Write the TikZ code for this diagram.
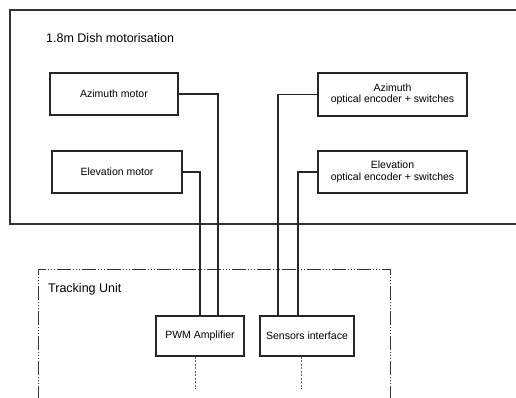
\documentclass[tikz,border=0pt]{standalone}
\usepackage{fontspec}
\setmainfont{Liberation Sans}
\begin{document}
\begin{tikzpicture}[x=1pt,y=-1pt,
  wire/.style={line width=1.3pt, draw=black!85},
  unitbox/.style={draw=black!85, line width=1.3pt, rectangle, inner sep=0pt,
    align=center, font=\fontsize{10.5}{11.5}\selectfont},
  frame/.style={line width=1.3pt, draw=black!80},
  dashdot/.style={line width=0.7pt, draw=black!80,
    dash pattern=on 14pt off 2pt on 1pt off 2pt on 1pt off 2pt on 1pt off 2pt},
  busline/.style={line width=0.6pt, draw=black!60, dash pattern=on 2pt off 1.5pt},
  heading/.style={anchor=west, inner sep=0pt, font=\fontsize{12.5}{14}\selectfont}]
\useasboundingbox (0,0) rectangle (516,398);

% dish motorisation enclosure (runs off the right edge)
\draw[frame] (530,10) -- (10,10) -- (10,224) -- (530,224);
\node[heading] (dishtitle) at (46,38) {1.8m Dish motorisation};

% motors
\node[unitbox, minimum width=128pt, minimum height=42pt] (azm) at (114,94) {Azimuth motor};
\node[unitbox, minimum width=130pt, minimum height=42pt] (elm) at (117,172) {Elevation motor};

% encoders
\node[unitbox, minimum width=149pt, minimum height=43pt] (aze) at (392.5,94.5) {Azimuth\\optical encoder + switches};
\node[unitbox, minimum width=149pt, minimum height=42pt] (ele) at (392.5,172) {Elevation\\optical encoder + switches};

% tracking unit enclosure (runs off the bottom edge)
\draw[dashdot] (38,400) -- (38,269) -- (390,269) -- (390,400);
\node[heading] (tutitle) at (48,289) {Tracking Unit};

\node[unitbox, minimum width=88pt, minimum height=40pt] (pwm) at (200,336) {PWM Amplifier};
\node[unitbox, minimum width=94pt, minimum height=40pt] (sen) at (307,336) {Sensors interface};

% cabling
\draw[wire] (azm.east) -| ([xshift=18pt]pwm.north);
\draw[wire] (elm.east) -| ([xshift=0pt]pwm.north);
\draw[wire] (aze.west) -| ([xshift=-29pt]sen.north);
\draw[wire] (ele.west) -| ([xshift=-9pt]sen.north);

% onward connections
\coordinate (pwmout) at (195,389);
\coordinate (senout) at (301,389);
\draw[busline] ([xshift=-5pt]pwm.south) -- (pwmout);
\draw[busline] ([xshift=-6pt]sen.south) -- (senout);
\end{tikzpicture}
\end{document}
